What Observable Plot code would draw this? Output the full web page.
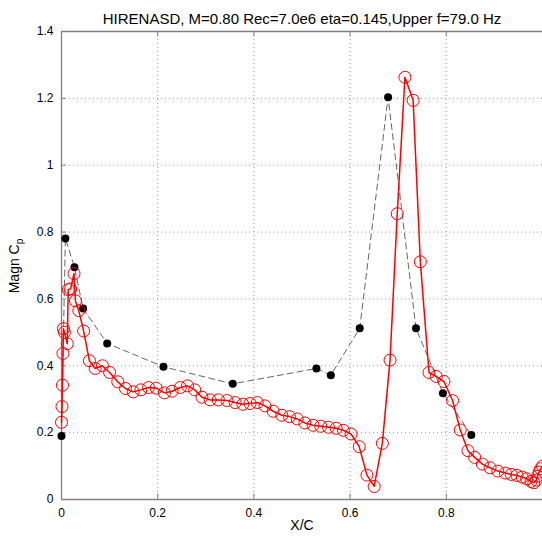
<!DOCTYPE html>
<html><head><meta charset="utf-8">
<script src="https://cdn.jsdelivr.net/npm/d3@7"></script>
<script src="https://cdn.jsdelivr.net/npm/@observablehq/plot@0.6"></script>
<style>body{margin:0;background:#fff}</style>
</head><body><div id="chart"></div>
<script>
const titleText = "HIRENASD, M=0.80 Rec=7.0e6 eta=0.145,Upper f=79.0 Hz";
const xLabel = "X/C";
const yLabelMain = "Magn C";
const yLabelSub = "p";
const xTicks = [0, 0.2, 0.4, 0.6, 0.8];
const yTicks = [0, 0.2, 0.4, 0.6, 0.8, 1, 1.2, 1.4];

// experiment (black dots, dashed)
const expX = [0.000, 0.008, 0.027, 0.045, 0.095, 0.212, 0.356, 0.530, 0.560, 0.620, 0.679, 0.737, 0.793, 0.852];
const expY = [0.190, 0.781, 0.695, 0.571, 0.467, 0.397, 0.346, 0.392, 0.372, 0.512, 1.203, 0.512, 0.318, 0.193];

// computation (red circles, solid)
const cfdX = [0.000, 0.001, 0.002, 0.003, 0.004, 0.006, 0.012, 0.014, 0.019, 0.026, 0.029, 0.036, 0.046, 0.058, 0.070,
  0.085, 0.100, 0.117, 0.133, 0.149, 0.165, 0.181, 0.197, 0.214, 0.230, 0.247, 0.262, 0.277, 0.292, 0.309,
  0.326, 0.344, 0.361, 0.377, 0.392, 0.407, 0.423, 0.440, 0.458, 0.474, 0.490, 0.506, 0.523, 0.539, 0.555,
  0.571, 0.586, 0.602, 0.619, 0.635, 0.650, 0.667, 0.683, 0.698, 0.714, 0.731, 0.746, 0.764, 0.779, 0.795,
  0.813, 0.829, 0.845, 0.859, 0.875, 0.891, 0.907, 0.923, 0.935, 0.947, 0.958, 0.967, 0.976, 0.982, 0.987,
  0.990, 0.993, 0.996, 1.000];
const cfdY = [0.231, 0.278, 0.342, 0.437, 0.511, 0.500, 0.466, 0.628, 0.630, 0.676, 0.594, 0.565, 0.504, 0.415, 0.392,
  0.400, 0.380, 0.352, 0.332, 0.322, 0.328, 0.335, 0.333, 0.319, 0.324, 0.335, 0.340, 0.328, 0.306, 0.298,
  0.298, 0.296, 0.290, 0.285, 0.287, 0.290, 0.280, 0.264, 0.252, 0.248, 0.241, 0.229, 0.222, 0.219, 0.216,
  0.213, 0.207, 0.196, 0.158, 0.073, 0.039, 0.168, 0.417, 0.855, 1.263, 1.194, 0.711, 0.380, 0.368, 0.353,
  0.296, 0.208, 0.146, 0.126, 0.106, 0.095, 0.085, 0.079, 0.075, 0.072, 0.067, 0.062, 0.054, 0.050, 0.058,
  0.070, 0.082, 0.092, 0.100];

const exp = expX.map((x, i) => ({x, y: expY[i]}));
const cfd = cfdX.map((x, i) => ({x, y: cfdY[i]}));

const axisColor = "#808080";
const fmt = d => String(d);
const plot = Plot.plot({
  width: 542,
  height: 543,
  marginLeft: 61,
  marginRight: 0,
  marginTop: 31,
  marginBottom: 44,
  style: {fontFamily: "'Liberation Sans', Arial, sans-serif", fontSize: "12px", color: "#000", background: "#fff"},
  x: {domain: [0, 1]},
  y: {domain: [0, 1.4]},
  marks: [
    Plot.gridX(xTicks.slice(1), {stroke: "#9a9a9a", strokeOpacity: 1, strokeDasharray: "1,3"}),
    Plot.gridY(yTicks.slice(1, -1), {stroke: "#9a9a9a", strokeOpacity: 1, strokeDasharray: "1,3"}),
    Plot.ruleX(xTicks, {y1: 0, y2: 0.016, stroke: axisColor}),
    Plot.ruleX(xTicks, {y1: 1.4, y2: 1.384, stroke: axisColor}),
    Plot.ruleY(yTicks, {x1: 0, x2: 0.01, stroke: axisColor}),
    Plot.ruleY([0], {stroke: axisColor, strokeWidth: 1.3}),
    Plot.ruleY([1.4], {stroke: axisColor, strokeWidth: 1.3}),
    Plot.ruleX([0], {stroke: axisColor, strokeWidth: 1.3}),
    Plot.axisX({ticks: xTicks, tickSize: 0, tickPadding: 9, label: null, tickFormat: fmt}),
    Plot.axisY({ticks: yTicks, tickSize: 0, tickPadding: 8, label: null, tickFormat: fmt}),
    Plot.line(exp, {x: "x", y: "y", stroke: "#666", strokeWidth: 1, strokeDasharray: "6,4"}),
    Plot.dot(exp, {x: "x", y: "y", r: 4, fill: "#000", stroke: "none"}),
    Plot.line(cfd, {x: "x", y: "y", stroke: "#ff0000", strokeWidth: 1.5}),
    Plot.dot(cfd, {x: "x", y: "y", r: 6, fill: "none", stroke: "#ff0000", strokeWidth: 1}),
    Plot.text([titleText], {frameAnchor: "top", dy: -18, fontSize: 15, fill: "#000"}),
    Plot.text([xLabel], {frameAnchor: "bottom", dy: 30, fontSize: 14, fill: "#000"})
  ]
});
document.getElementById("chart").appendChild(plot);

const svg = d3.select(plot);
const yl = svg.append("text")
  .attr("transform", "translate(19,266) rotate(-90)")
  .attr("text-anchor", "middle")
  .attr("font-size", 14)
  .attr("fill", "#000");
yl.append("tspan").text(yLabelMain);
yl.append("tspan").attr("font-size", 10).attr("dy", 4).text(yLabelSub);
</script>
</body></html>
